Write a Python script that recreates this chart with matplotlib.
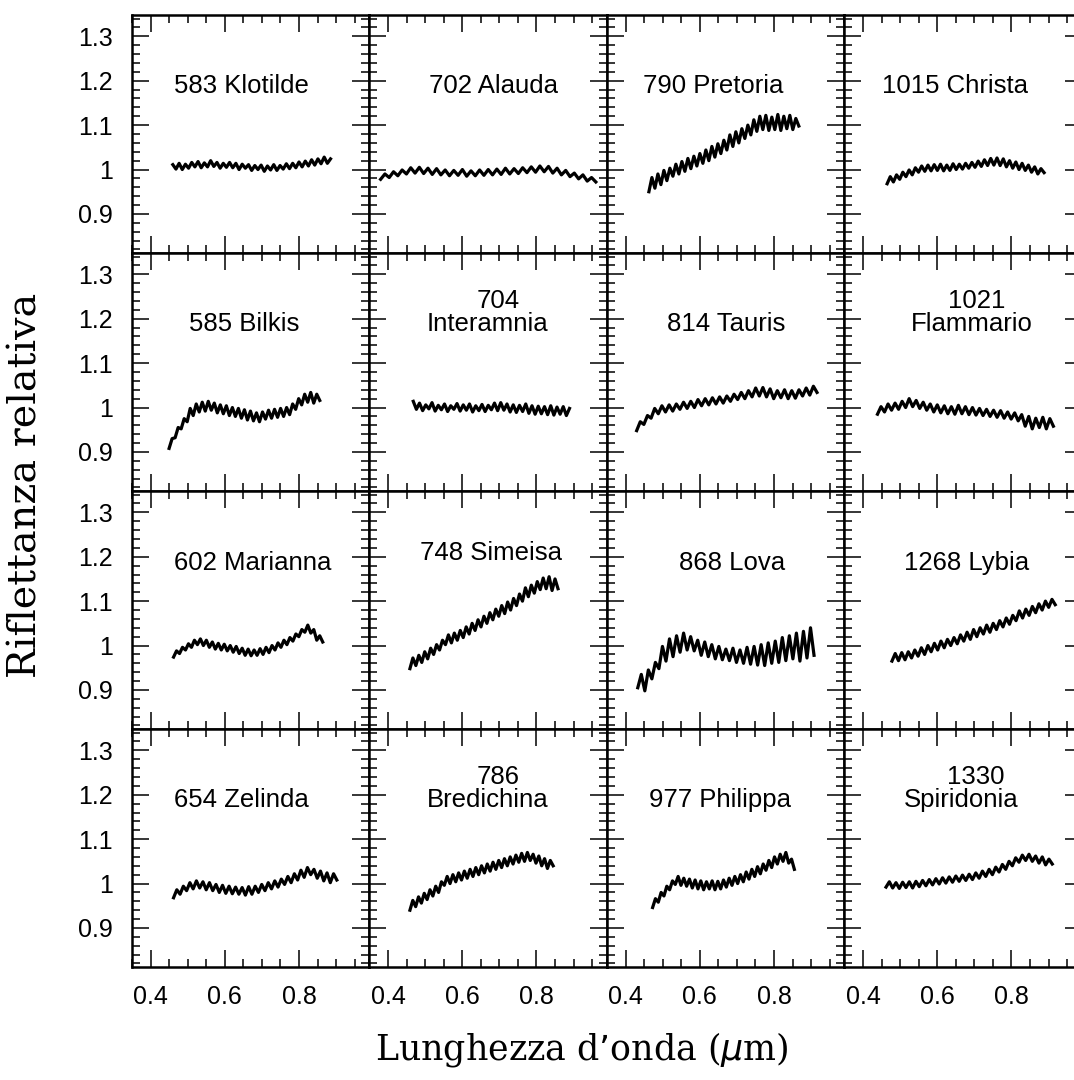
import numpy as np
import matplotlib.pyplot as plt
from matplotlib.ticker import MultipleLocator, FormatStrFormatter

# asteroid names, one per panel (row by row); '\n' splits number and name
names = ['583 Klotilde', '702 Alauda', '790 Pretoria', '1015 Christa',
         '585 Bilkis', '704\nInteramnia', '814 Tauris', '1021\nFlammario',
         '602 Marianna', '748 Simeisa', '868 Lova', '1268 Lybia',
         '654 Zelinda', '786\nBredichina', '977 Philippa', '1330\nSpiridonia']

# wavelength range covered by each spectrum (um)
wl_start = [0.46, 0.38, 0.463, 0.465,
            0.45, 0.468, 0.43, 0.439,
            0.462, 0.459, 0.433, 0.478,
            0.462, 0.459, 0.473, 0.462]
wl_end = [0.885, 0.96, 0.867, 0.888,
          0.856, 0.889, 0.916, 0.913,
          0.864, 0.858, 0.908, 0.918,
          0.902, 0.845, 0.855, 0.91]

# relative reflectance, sampled evenly between wl_start and wl_end
refl = [
    [1.011, 1.001, 1.014, 1.000, 1.012, 1.003, 1.016, 1.006, 1.018, 1.004, 1.015, 1.006, 1.020, 1.007, 1.016, 1.003, 1.014,
     1.005, 1.016, 1.004, 1.014, 1.000, 1.012, 1.003, 1.011, 0.998, 1.009, 1.000, 1.010, 0.996, 1.008, 0.999, 1.011, 0.998,
     1.009, 1.001, 1.013, 1.002, 1.014, 1.004, 1.017, 1.006, 1.019, 1.008, 1.022, 1.010, 1.024, 1.013, 1.028, 1.014, 1.024],
    [0.978, 0.990, 0.982, 0.995, 0.986, 0.999, 0.990, 1.004, 0.992, 1.005, 0.991, 1.003, 0.989, 1.002, 0.988, 0.999, 0.986,
     0.998, 0.987, 1.000, 0.985, 0.997, 0.986, 0.999, 0.987, 1.000, 0.988, 1.001, 0.989, 1.003, 0.990, 1.002, 0.991, 1.004,
     0.993, 1.006, 0.994, 1.008, 0.995, 1.007, 0.992, 1.003, 0.988, 0.998, 0.984, 0.992, 0.979, 0.988, 0.974, 0.982, 0.972],
    [0.950, 0.982, 0.958, 0.990, 0.966, 0.998, 0.975, 1.003, 0.985, 1.012, 0.990, 1.018, 0.996, 1.025, 1.002, 1.030, 1.008,
     1.036, 1.014, 1.044, 1.020, 1.052, 1.028, 1.058, 1.036, 1.066, 1.044, 1.078, 1.052, 1.085, 1.060, 1.092, 1.070, 1.100,
     1.078, 1.112, 1.086, 1.120, 1.090, 1.122, 1.088, 1.118, 1.090, 1.124, 1.088, 1.120, 1.092, 1.122, 1.090, 1.115, 1.098],
    [0.968, 0.984, 0.972, 0.988, 0.978, 0.994, 0.984, 0.999, 0.988, 1.004, 0.994, 1.008, 0.996, 1.010, 0.997, 1.011, 0.998,
     1.012, 0.997, 1.010, 0.998, 1.013, 1.000, 1.012, 1.001, 1.014, 1.003, 1.016, 1.005, 1.019, 1.007, 1.022, 1.009, 1.025,
     1.010, 1.026, 1.009, 1.024, 1.006, 1.020, 1.003, 1.017, 1.000, 1.014, 0.998, 1.010, 0.994, 1.006, 0.990, 1.002, 0.993],
    [0.908, 0.930, 0.932, 0.955, 0.952, 0.975, 0.968, 0.998, 0.982, 1.008, 0.990, 1.012, 0.992, 1.014, 0.994, 1.010, 0.988,
     1.006, 0.986, 1.004, 0.982, 1.000, 0.980, 0.998, 0.976, 0.995, 0.972, 0.992, 0.970, 0.988, 0.968, 0.990, 0.974, 0.994,
     0.976, 0.996, 0.978, 0.998, 0.980, 1.000, 0.984, 1.008, 0.996, 1.020, 1.006, 1.030, 1.012, 1.034, 1.010, 1.030, 1.016],
    [1.014, 0.996, 1.010, 0.993, 1.006, 0.997, 1.011, 0.992, 1.005, 0.995, 1.008, 0.991, 1.004, 0.996, 1.009, 0.992, 1.006,
     0.994, 1.008, 0.990, 1.004, 0.993, 1.007, 0.991, 1.005, 0.995, 1.010, 0.993, 1.011, 0.994, 1.008, 0.990, 1.006, 0.989,
     1.005, 0.991, 1.008, 0.987, 1.004, 0.985, 1.003, 0.986, 1.002, 0.984, 1.004, 0.983, 1.001, 0.985, 1.002, 0.982, 0.998],
    [0.948, 0.968, 0.962, 0.982, 0.976, 0.998, 0.986, 1.004, 0.990, 1.006, 0.992, 1.008, 0.996, 1.012, 0.998, 1.014, 1.000,
     1.018, 1.004, 1.020, 1.006, 1.022, 1.008, 1.024, 1.010, 1.026, 1.014, 1.030, 1.018, 1.034, 1.020, 1.038, 1.024, 1.044,
     1.026, 1.045, 1.024, 1.042, 1.020, 1.038, 1.022, 1.040, 1.020, 1.038, 1.021, 1.040, 1.026, 1.044, 1.028, 1.048, 1.034],
    [0.985, 1.002, 0.990, 1.008, 0.994, 1.010, 0.996, 1.014, 1.000, 1.020, 1.002, 1.016, 0.998, 1.012, 0.994, 1.008, 0.990,
     1.006, 0.988, 1.004, 0.986, 1.002, 0.985, 1.005, 0.986, 1.002, 0.984, 1.000, 0.983, 0.998, 0.982, 0.996, 0.980, 0.994,
     0.978, 0.993, 0.976, 0.990, 0.974, 0.988, 0.970, 0.984, 0.958, 0.980, 0.952, 0.976, 0.955, 0.978, 0.952, 0.975, 0.958],
    [0.974, 0.988, 0.982, 0.996, 0.990, 1.004, 0.996, 1.012, 1.002, 1.015, 1.000, 1.012, 0.996, 1.008, 0.992, 1.005, 0.990,
     1.003, 0.988, 1.000, 0.985, 0.998, 0.982, 0.994, 0.978, 0.992, 0.977, 0.990, 0.978, 0.993, 0.980, 0.996, 0.984, 1.000,
     0.990, 1.006, 0.996, 1.012, 1.002, 1.018, 1.010, 1.026, 1.020, 1.036, 1.030, 1.046, 1.028, 1.036, 1.012, 1.022, 1.008],
    [0.948, 0.972, 0.955, 0.978, 0.962, 0.986, 0.970, 0.994, 0.980, 1.002, 0.990, 1.012, 1.002, 1.024, 1.006, 1.028, 1.012,
     1.034, 1.018, 1.042, 1.026, 1.050, 1.034, 1.058, 1.042, 1.066, 1.050, 1.074, 1.058, 1.082, 1.066, 1.090, 1.072, 1.098,
     1.080, 1.106, 1.090, 1.116, 1.100, 1.130, 1.110, 1.136, 1.118, 1.144, 1.126, 1.152, 1.128, 1.155, 1.124, 1.150, 1.128],
    [0.905, 0.935, 0.898, 0.945, 0.925, 0.962, 0.948, 0.998, 0.965, 1.015, 0.975, 1.022, 0.985, 1.028, 0.990, 1.020, 0.988,
     1.012, 0.978, 1.008, 0.975, 1.002, 0.970, 0.998, 0.968, 0.992, 0.966, 0.994, 0.962, 0.990, 0.960, 0.996, 0.958, 0.998,
     0.956, 1.002, 0.955, 1.006, 0.960, 1.010, 0.962, 1.018, 0.966, 1.022, 0.970, 1.028, 0.965, 1.032, 0.972, 1.040, 0.978],
    [0.965, 0.982, 0.966, 0.984, 0.968, 0.986, 0.972, 0.990, 0.976, 0.995, 0.980, 1.000, 0.986, 1.005, 0.990, 1.010, 0.995,
     1.014, 1.000, 1.018, 1.004, 1.024, 1.010, 1.030, 1.014, 1.036, 1.020, 1.040, 1.026, 1.046, 1.030, 1.050, 1.036, 1.056,
     1.042, 1.062, 1.048, 1.068, 1.056, 1.078, 1.062, 1.082, 1.068, 1.088, 1.074, 1.094, 1.080, 1.100, 1.086, 1.104, 1.092],
    [0.968, 0.986, 0.976, 0.994, 0.984, 1.002, 0.988, 1.006, 0.990, 1.004, 0.986, 1.002, 0.984, 0.998, 0.980, 0.996, 0.978,
     0.994, 0.977, 0.992, 0.976, 0.991, 0.974, 0.993, 0.976, 0.994, 0.980, 0.998, 0.984, 1.002, 0.988, 1.006, 0.992, 1.010,
     0.998, 1.016, 1.002, 1.022, 1.008, 1.030, 1.014, 1.036, 1.020, 1.032, 1.012, 1.028, 1.006, 1.024, 1.002, 1.022, 1.008],
    [0.940, 0.962, 0.948, 0.970, 0.956, 0.978, 0.964, 0.986, 0.972, 0.994, 0.980, 1.004, 0.996, 1.016, 1.000, 1.020, 1.004,
     1.024, 1.008, 1.028, 1.012, 1.032, 1.016, 1.036, 1.020, 1.040, 1.024, 1.044, 1.028, 1.048, 1.032, 1.052, 1.036, 1.056,
     1.040, 1.060, 1.044, 1.064, 1.048, 1.068, 1.050, 1.070, 1.052, 1.066, 1.046, 1.062, 1.040, 1.056, 1.034, 1.052, 1.040],
    [0.946, 0.966, 0.958, 0.980, 0.972, 0.994, 0.986, 1.006, 0.998, 1.016, 0.996, 1.012, 0.994, 1.010, 0.990, 1.008, 0.988,
     1.006, 0.986, 1.004, 0.988, 1.006, 0.986, 1.005, 0.988, 1.008, 0.992, 1.012, 0.996, 1.016, 1.000, 1.020, 1.004, 1.026,
     1.010, 1.032, 1.016, 1.038, 1.022, 1.044, 1.030, 1.052, 1.036, 1.060, 1.044, 1.066, 1.050, 1.070, 1.046, 1.055, 1.032],
    [0.992, 1.004, 0.990, 1.002, 0.989, 1.003, 0.991, 1.004, 0.990, 1.005, 0.993, 1.007, 0.995, 1.009, 0.997, 1.011, 0.999,
     1.013, 1.001, 1.015, 1.003, 1.017, 1.005, 1.019, 1.007, 1.021, 1.009, 1.024, 1.012, 1.028, 1.016, 1.032, 1.020, 1.037,
     1.026, 1.043, 1.032, 1.050, 1.040, 1.058, 1.048, 1.064, 1.052, 1.066, 1.050, 1.062, 1.046, 1.060, 1.042, 1.055, 1.044],
]

# label anchors in data units: single line / second line, and the number line above
label_x = [0.645, 0.683, 0.636, 0.647,
           0.652, 0.669, 0.671, 0.694,
           0.676, 0.677, 0.687, 0.680,
           0.644, 0.669, 0.655, 0.664]
label_y = [1.189, 1.189, 1.189, 1.189,
           1.189, 1.189, 1.189, 1.189,
           1.187, 1.208, 1.187, 1.187,
           1.188, 1.188, 1.188, 1.188]
num_x = [0, 0, 0, 0,
         0, 0.698, 0, 0.705,
         0, 0, 0, 0,
         0, 0.698, 0, 0.705]

plt.rcParams['font.family'] = 'Liberation Sans'

fig, axes = plt.subplots(4, 4, figsize=(10.74, 10.8), dpi=100, sharex=True, sharey=True)
fig.subplots_adjust(left=0.1229, right=1.0074, top=0.9861, bottom=0.1046, wspace=0, hspace=0)

for i, ax in enumerate(axes.flat):
    wl = np.linspace(wl_start[i], wl_end[i], len(refl[i]))
    ax.plot(wl, refl[i], color='black', lw=2.3)
    parts = names[i].split('\n')
    if len(parts) == 2:
        ax.text(num_x[i], label_y[i] + 0.051, parts[0], ha='center', va='center', fontsize=18.5)
        ax.text(label_x[i], label_y[i], parts[1], ha='center', va='center', fontsize=18.5)
    else:
        ax.text(label_x[i], label_y[i], parts[0], ha='center', va='center', fontsize=18.5)
    ax.set_xlim(0.35, 0.99)
    ax.set_ylim(0.812, 1.348)
    ax.xaxis.set_major_locator(MultipleLocator(0.2))
    ax.xaxis.set_minor_locator(MultipleLocator(0.05))
    ax.yaxis.set_major_locator(MultipleLocator(0.1))
    ax.yaxis.set_minor_locator(MultipleLocator(0.02))
    ax.yaxis.set_major_formatter(FormatStrFormatter('%g'))
    ax.xaxis.set_major_formatter(FormatStrFormatter('%g'))
    ax.tick_params(which='both', direction='in', top=True, right=True, width=1.1)
    ax.tick_params(which='major', length=12, labelsize=18)
    ax.tick_params(which='minor', length=6)
    ax.tick_params(axis='x', pad=13)
    ax.tick_params(axis='y', pad=14)
    for s in ax.spines.values():
        s.set_linewidth(1.8)

fig.text(0.542, 0.028, 'Lunghezza d\u2019onda ($\\mu$m)', ha='center', va='center',
         fontsize=25, family='DejaVu Serif')
fig.text(0.024, 0.551, 'Riflettanza relativa', ha='center', va='center',
         rotation=90, fontsize=28.5, family='DejaVu Serif')

fig.savefig('out.png', dpi=100)
